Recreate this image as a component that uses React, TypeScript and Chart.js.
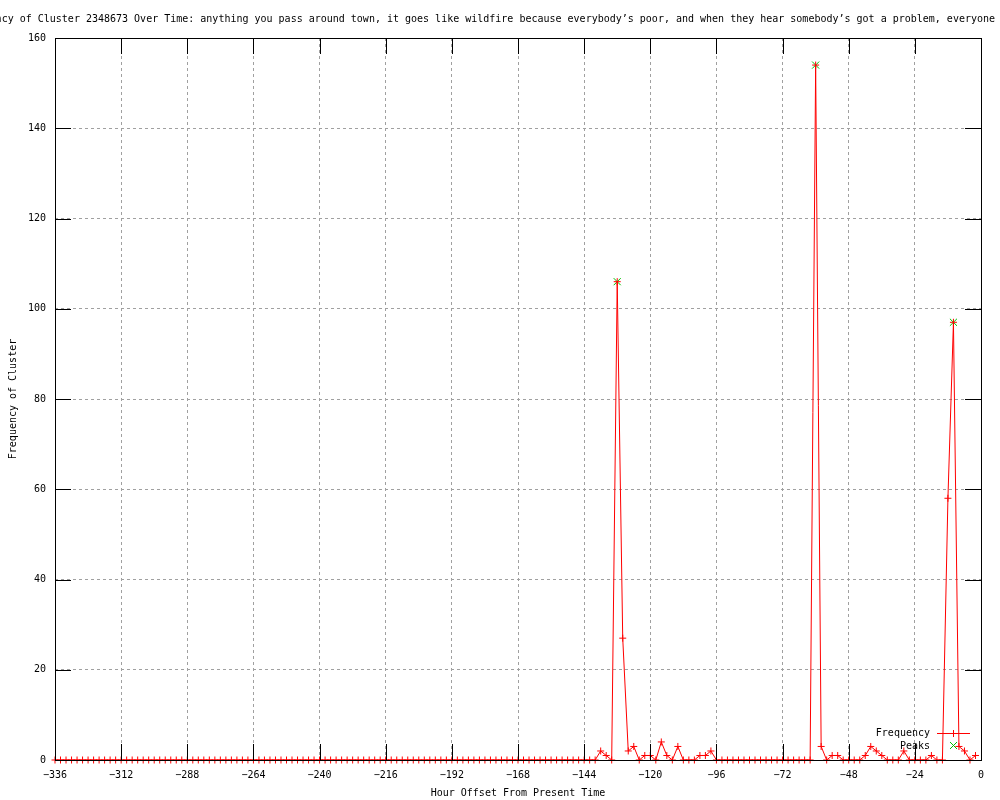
import React, { useEffect, useRef } from 'react';
import { Chart, registerables } from 'chart.js';

Chart.register(...registerables);

const TITLE =
  'Frequency of Cluster 2348673 Over Time: anything you pass around town, it goes like wildfire because everybody’s poor, and when they hear somebody’s got a problem, everyone t';
const X_TITLE = 'Hour Offset From Present Time';
const Y_TITLE = 'Frequency of Cluster';
const LEGEND_FREQ = 'Frequency';
const LEGEND_PEAKS = 'Peaks';

const HOURS = [
  -336, -334, -332, -330, -328, -326, -324, -322, -320, -318,
  -316, -314, -312, -310, -308, -306, -304, -302, -300, -298,
  -296, -294, -292, -290, -288, -286, -284, -282, -280, -278,
  -276, -274, -272, -270, -268, -266, -264, -262, -260, -258,
  -256, -254, -252, -250, -248, -246, -244, -242, -240, -238,
  -236, -234, -232, -230, -228, -226, -224, -222, -220, -218,
  -216, -214, -212, -210, -208, -206, -204, -202, -200, -198,
  -196, -194, -192, -190, -188, -186, -184, -182, -180, -178,
  -176, -174, -172, -170, -168, -166, -164, -162, -160, -158,
  -156, -154, -152, -150, -148, -146, -144, -142, -140, -138,
  -136, -134, -132, -130, -128, -126, -124, -122, -120, -118,
  -116, -114, -112, -110, -108, -106, -104, -102, -100, -98,
  -96, -94, -92, -90, -88, -86, -84, -82, -80, -78,
  -76, -74, -72, -70, -68, -66, -64, -62, -60, -58,
  -56, -54, -52, -50, -48, -46, -44, -42, -40, -38,
  -36, -34, -32, -30, -28, -26, -24, -22, -20, -18,
  -16, -14, -12, -10, -8, -6, -4, -2,
];

const FREQUENCY = [
  0, 0, 0, 0, 0, 0, 0, 0, 0, 0,
  0, 0, 0, 0, 0, 0, 0, 0, 0, 0,
  0, 0, 0, 0, 0, 0, 0, 0, 0, 0,
  0, 0, 0, 0, 0, 0, 0, 0, 0, 0,
  0, 0, 0, 0, 0, 0, 0, 0, 0, 0,
  0, 0, 0, 0, 0, 0, 0, 0, 0, 0,
  0, 0, 0, 0, 0, 0, 0, 0, 0, 0,
  0, 0, 0, 0, 0, 0, 0, 0, 0, 0,
  0, 0, 0, 0, 0, 0, 0, 0, 0, 0,
  0, 0, 0, 0, 0, 0, 0, 0, 0, 2,
  1, 0, 106, 27, 2, 3, 0, 1, 1, 0,
  4, 1, 0, 3, 0, 0, 0, 1, 1, 2,
  0, 0, 0, 0, 0, 0, 0, 0, 0, 0,
  0, 0, 0, 0, 0, 0, 0, 0, 154, 3,
  0, 1, 1, 0, 0, 0, 0, 1, 3, 2,
  1, 0, 0, 0, 2, 0, 0, 0, 0, 1,
  0, 0, 58, 97, 3, 2, 0, 1,
];

const PEAK_HOURS = [-132, -60, -10];
const PEAK_VALUES = [106, 154, 97];

const X_TICKS = [-336, -312, -288, -264, -240, -216, -192, -168, -144, -120, -96, -72, -48, -24, 0];
const Y_TICKS = [0, 20, 40, 60, 80, 100, 120, 140, 160];

const FAMILY = '"DejaVu Sans Mono", monospace';
const FONT = `10px ${FAMILY}`;
const RED = '#ff0000';
const GREEN = '#00c000';
const GRID = '#a0a0a0';
const TICK_LEN = 16;

const gnuplotPlugin = {
  id: 'gnuplotFrame',
  beforeDraw(chart: any) {
    const { ctx, width, height } = chart;
    ctx.save();
    ctx.fillStyle = '#ffffff';
    ctx.fillRect(0, 0, width, height);
    ctx.restore();
  },
  afterDatasetsDraw(chart: any) {
    const { ctx, chartArea: a, scales } = chart;
    ctx.save();
    ctx.setLineDash([]);
    ctx.strokeStyle = '#000';
    ctx.lineWidth = 1;
    ctx.beginPath();
    X_TICKS.forEach((v) => {
      const x = Math.round(scales.x.getPixelForValue(v)) + 0.5;
      ctx.moveTo(x, a.bottom);
      ctx.lineTo(x, a.bottom - TICK_LEN);
      ctx.moveTo(x, a.top);
      ctx.lineTo(x, a.top + TICK_LEN);
    });
    Y_TICKS.forEach((v) => {
      const y = Math.round(scales.y.getPixelForValue(v)) + 0.5;
      ctx.moveTo(a.left, y);
      ctx.lineTo(a.left + TICK_LEN, y);
      ctx.moveTo(a.right, y);
      ctx.lineTo(a.right - TICK_LEN, y);
    });
    ctx.stroke();
    ctx.strokeRect(
      Math.round(a.left) + 0.5,
      Math.round(a.top) + 0.5,
      Math.round(a.right) - Math.round(a.left),
      Math.round(a.bottom) - Math.round(a.top)
    );
    ctx.restore();
  },
  afterDraw(chart: any) {
    const { ctx, chartArea: a } = chart;
    ctx.save();
    ctx.setLineDash([]);
    ctx.font = FONT;
    ctx.fillStyle = '#000';

    // legend
    ctx.textAlign = 'right';
    ctx.textBaseline = 'middle';
    ctx.fillText(LEGEND_FREQ, 930, 733);
    ctx.fillText(LEGEND_PEAKS, 930, 746);
    ctx.strokeStyle = RED;
    ctx.lineWidth = 1;
    ctx.beginPath();
    ctx.moveTo(937, 733.5);
    ctx.lineTo(970, 733.5);
    ctx.moveTo(953.5, 730);
    ctx.lineTo(953.5, 737);
    ctx.stroke();
    ctx.strokeStyle = GREEN;
    ctx.beginPath();
    ctx.moveTo(950, 742);
    ctx.lineTo(957, 749);
    ctx.moveTo(957, 742);
    ctx.lineTo(950, 749);
    ctx.stroke();

    // titles
    ctx.textAlign = 'left';
    ctx.textBaseline = 'alphabetic';
    ctx.fillText(TITLE, -40.5, 22);
    ctx.textAlign = 'center';
    ctx.textBaseline = 'middle';
    ctx.fillText(X_TITLE, (a.left + a.right) / 2, 793);
    ctx.translate(13.5, (a.top + a.bottom) / 2);
    ctx.rotate(-Math.PI / 2);
    ctx.fillText(Y_TITLE, 0, 0);
    ctx.restore();
  },
};

export default function App() {
  const ref = useRef<HTMLCanvasElement>(null);

  useEffect(() => {
    document.body.style.margin = '0';
    const canvas = ref.current;
    if (!canvas) return;
    const freqPoints = HOURS.map((h, i) => ({ x: h, y: FREQUENCY[i] }));
    const peakPoints = PEAK_HOURS.map((h, i) => ({ x: h, y: PEAK_VALUES[i] }));

    const chart = new Chart(canvas, {
      type: 'line',
      data: {
        datasets: [
          {
            label: LEGEND_FREQ,
            data: freqPoints,
            borderColor: RED,
            backgroundColor: RED,
            borderWidth: 1,
            tension: 0,
            pointStyle: 'cross',
            pointRadius: 3.5,
            pointBorderColor: RED,
            pointBorderWidth: 1,
            pointHoverRadius: 3.5,
            fill: false,
            clip: false,
          } as any,
          {
            label: LEGEND_PEAKS,
            data: peakPoints,
            showLine: false,
            borderColor: GREEN,
            backgroundColor: GREEN,
            pointStyle: 'crossRot',
            pointRadius: 5,
            pointBorderColor: GREEN,
            pointBorderWidth: 1,
            clip: false,
          } as any,
        ],
      },
      options: {
        responsive: false,
        animation: false,
        devicePixelRatio: 1,
        events: [],
        layout: { padding: { top: 38, right: 19, bottom: 0, left: 0 } },
        plugins: {
          legend: { display: false },
          title: { display: false },
          tooltip: { enabled: false },
        },
        scales: {
          x: {
            type: 'linear',
            min: -336,
            max: 0,
            afterBuildTicks: (scale: any) => {
              scale.ticks = X_TICKS.map((v) => ({ value: v }));
            },
            afterFit: (scale: any) => {
              scale.height = 40;
            },
            ticks: {
              autoSkip: false,
              maxRotation: 0,
              padding: 9,
              color: '#000',
              font: { family: FAMILY, size: 10 },
              callback: (v: any) => String(v).replace('-', '−'),
            },
            grid: { color: GRID, lineWidth: 1, drawTicks: false },
            border: { display: false, dash: [3, 3] },
          },
          y: {
            type: 'linear',
            min: 0,
            max: 160,
            afterBuildTicks: (scale: any) => {
              scale.ticks = Y_TICKS.map((v) => ({ value: v }));
            },
            afterFit: (scale: any) => {
              scale.width = 55;
            },
            ticks: {
              autoSkip: false,
              padding: 9,
              color: '#000',
              font: { family: FAMILY, size: 10 },
            },
            grid: { color: GRID, lineWidth: 1, drawTicks: false },
            border: { display: false, dash: [3, 3] },
          },
        },
      },
      plugins: [gnuplotPlugin],
    } as any);

    return () => chart.destroy();
  }, []);

  return (
    <canvas
      ref={ref}
      width={1000}
      height={800}
      style={{ display: 'block', width: 1000, height: 800 }}
    />
  );
}
